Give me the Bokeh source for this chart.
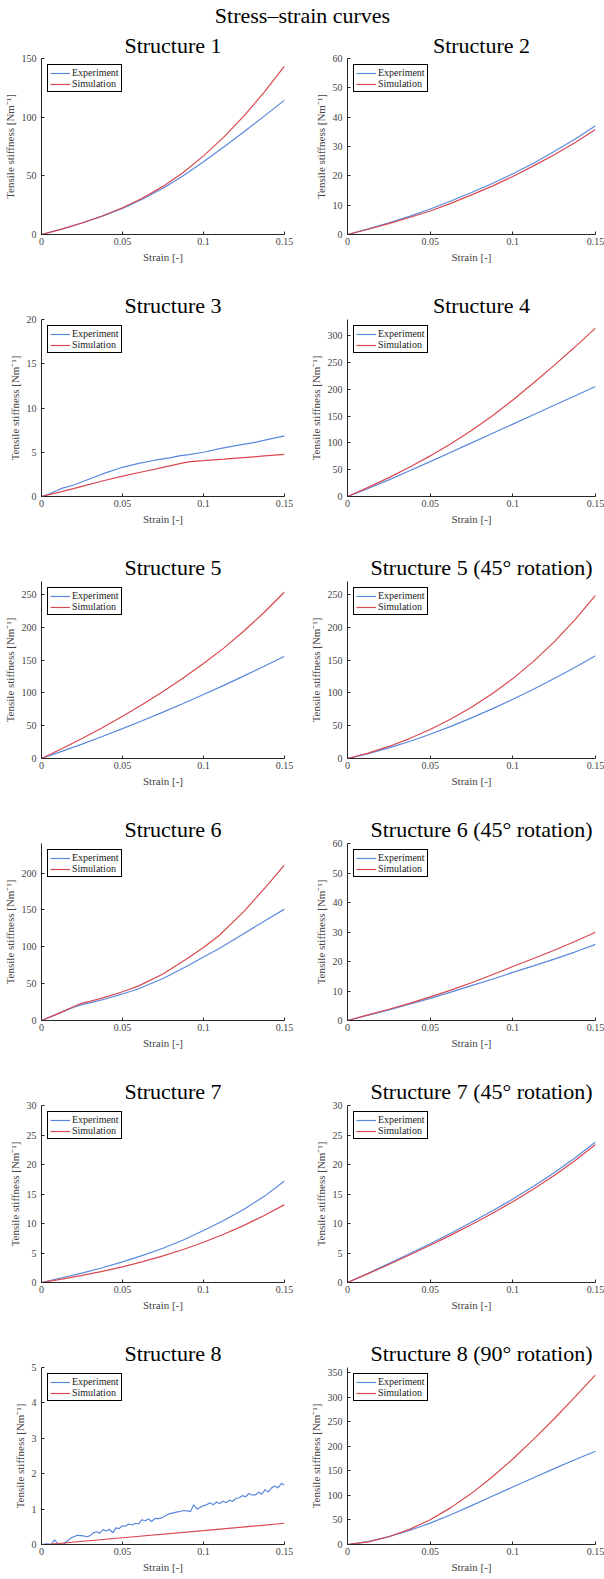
from bokeh.plotting import figure
from bokeh.layouts import column, row
from bokeh.models import Range1d, FixedTicker, Label, Title
from bokeh.embed import file_html
from bokeh.resources import INLINE

# ---------------- data ----------------
SUPTITLE = "Stress–strain curves"
TITLES = ["Structure 1", "Structure 2", "Structure 3", "Structure 4",
          "Structure 5", "Structure 5 (45° rotation)",
          "Structure 6", "Structure 6 (45° rotation)",
          "Structure 7", "Structure 7 (45° rotation)",
          "Structure 8", "Structure 8 (90° rotation)"]
X_TICKS = [0, 0.05, 0.1, 0.15]
X_TICK_LABELS = ["0", "0.05", "0.1", "0.15"]
X_LABEL = "Strain [-]"
Y_LABEL = "Tensile stiffness [Nm⁻¹]"
SERIES = ["Experiment", "Simulation"]

STRAIN = [0, 0.0125, 0.025, 0.0375, 0.05, 0.0625, 0.075, 0.0875, 0.1, 0.1125, 0.125, 0.1375, 0.15]

S1_EXP = [0, 4.6, 9.8, 15.7, 22.3, 30.2, 39.5, 50.1, 62.0, 74.6, 87.6, 100.9, 114.5]
S1_SIM = [0, 4.6, 9.8, 15.8, 22.8, 31.1, 41.0, 52.8, 67.0, 83.0, 101.1, 121.3, 143.5]

S2_EXP = [0, 1.9, 4.0, 6.2, 8.7, 11.4, 14.3, 17.4, 20.7, 24.3, 28.3, 32.5, 37.1]
S2_SIM = [0, 1.8, 3.7, 5.8, 8.0, 10.6, 13.5, 16.5, 19.8, 23.4, 27.2, 31.3, 35.8]

S3_EXP_X = [0, 0.005, 0.01, 0.013, 0.02, 0.03, 0.04, 0.05, 0.06, 0.07, 0.08, 0.085, 0.09, 0.1, 0.11, 0.12, 0.13, 0.14, 0.15]
S3_EXP = [0, 0.3, 0.7, 0.95, 1.3, 2.0, 2.7, 3.3, 3.75, 4.1, 4.4, 4.6, 4.7, 5.0, 5.4, 5.75, 6.05, 6.45, 6.85]
S3_SIM_X = [0, 0.0125, 0.025, 0.0375, 0.05, 0.0625, 0.075, 0.0875, 0.092, 0.1, 0.1125, 0.125, 0.1375, 0.15]
S3_SIM = [0, 0.55, 1.15, 1.75, 2.3, 2.8, 3.3, 3.8, 3.95, 4.05, 4.22, 4.4, 4.58, 4.75]

S4_EXP = [0, 15, 31, 48, 65, 82.5, 100, 117.5, 135, 152.5, 170, 187.5, 205]
S4_SIM = [0, 17, 35.2, 54.7, 75.7, 98.5, 123.2, 150.2, 180, 211.5, 244.5, 278.6, 314]

S5_EXP = [0, 10.8, 22, 33.6, 45.6, 58, 70.8, 84, 97.6, 111.6, 126, 140.8, 156]
S5_SIM = [0, 15, 30.6, 47, 64.4, 82.8, 102.3, 122.9, 144.8, 168.4, 194.4, 223.1, 254]

S5R_EXP = [0, 7.4, 16.1, 26, 37, 49, 61.9, 75.7, 90.3, 105.7, 121.9, 138.9, 156.7]
S5R_SIM = [0, 8.3, 18.4, 30.4, 44.3, 60.2, 78.3, 98.8, 121.9, 148.1, 177.9, 211.5, 249]

S6_X = [0, 0.01, 0.02, 0.025, 0.03, 0.04, 0.05, 0.06, 0.075, 0.09, 0.1, 0.11, 0.125, 0.14, 0.15]
S6_EXP = [0, 9, 18, 21.5, 24, 29.5, 36, 43, 57, 74, 86, 98, 118, 138, 151]
S6_SIM = [0, 9, 19, 23.5, 26, 32, 39, 47, 63, 84, 99, 116, 148, 185, 211]

S6R_EXP = [0, 1.8, 3.6, 5.5, 7.5, 9.6, 11.8, 14.0, 16.3, 18.5, 20.8, 23.2, 25.8]
S6R_SIM = [0, 1.9, 3.8, 5.8, 8.0, 10.3, 12.8, 15.5, 18.3, 21.0, 23.8, 26.8, 29.9]

S7_EXP = [0, 0.8, 1.6, 2.5, 3.5, 4.6, 5.8, 7.2, 8.8, 10.5, 12.4, 14.6, 17.2]
S7_SIM = [0, 0.58, 1.2, 1.88, 2.66, 3.54, 4.52, 5.6, 6.82, 8.18, 9.68, 11.36, 13.2]

S7R_EXP = [0, 1.58, 3.2, 4.86, 6.58, 8.36, 10.2, 12.12, 14.14, 16.3, 18.6, 21.1, 23.8]
S7R_SIM = [0, 1.5, 3.05, 4.65, 6.31, 8.03, 9.83, 11.71, 13.7, 15.83, 18.13, 20.63, 23.4]

S8_EXP_X = [0, 0.003, 0.006, 0.008, 0.01, 0.012, 0.014, 0.016, 0.018, 0.02,
            0.022, 0.025, 0.028, 0.03, 0.032, 0.034, 0.036, 0.038, 0.04, 0.042,
            0.044, 0.046, 0.048, 0.05, 0.052, 0.054, 0.056, 0.058, 0.06, 0.062,
            0.064, 0.066, 0.068, 0.07, 0.072, 0.074, 0.076, 0.078, 0.08, 0.082,
            0.084, 0.086, 0.088, 0.09, 0.092, 0.094, 0.096, 0.098, 0.1, 0.102,
            0.104, 0.106, 0.108, 0.11, 0.112, 0.114, 0.116, 0.118, 0.12, 0.122,
            0.124, 0.126, 0.128, 0.13, 0.132, 0.134, 0.136, 0.138, 0.14, 0.142,
            0.144, 0.146, 0.148, 0.15]
S8_EXP = [0, 0.02, 0.0, 0.13, 0.03, 0.0, 0.02, 0.1, 0.18, 0.22,
          0.26, 0.25, 0.22, 0.25, 0.33, 0.36, 0.32, 0.42, 0.38, 0.43,
          0.33, 0.47, 0.45, 0.53, 0.52, 0.58, 0.55, 0.6, 0.58, 0.7,
          0.67, 0.72, 0.65, 0.74, 0.73, 0.75, 0.8, 0.85, 0.88, 0.9,
          0.92, 0.94, 0.96, 0.95, 0.93, 1.12, 1.0, 1.05, 1.1, 1.12,
          1.18, 1.12, 1.2, 1.16, 1.22, 1.18, 1.25, 1.22, 1.3, 1.32,
          1.38, 1.35, 1.44, 1.4, 1.4, 1.48, 1.42, 1.55, 1.48, 1.6,
          1.65, 1.6, 1.72, 1.68]
S8_SIM_X = [0, 0.003, 0.05, 0.1, 0.15]
S8_SIM = [0, 0.0, 0.19, 0.39, 0.6]

S8R_EXP = [0, 6, 16, 28.5, 43.5, 60.5, 79, 98, 117, 135.8, 154.3, 172.3, 189.8]
S8R_SIM = [0, 5.5, 15.7, 30.7, 50.5, 75, 104, 137.2, 174, 213.8, 255.8, 299.6, 345]

Y_MAX = [150, 60, 20, 330, 270, 270, 240, 60, 30, 30, 5, 360]
Y_TICKS = [
    [0, 50, 100, 150],
    [0, 10, 20, 30, 40, 50, 60],
    [0, 5, 10, 15, 20],
    [0, 50, 100, 150, 200, 250, 300],
    [0, 50, 100, 150, 200, 250],
    [0, 50, 100, 150, 200, 250],
    [0, 50, 100, 150, 200],
    [0, 10, 20, 30, 40, 50, 60],
    [0, 5, 10, 15, 20, 25, 30],
    [0, 5, 10, 15, 20, 25, 30],
    [0, 1, 2, 3, 4, 5],
    [0, 50, 100, 150, 200, 250, 300, 350],
]

PANELS = [
    (STRAIN, S1_EXP, STRAIN, S1_SIM),
    (STRAIN, S2_EXP, STRAIN, S2_SIM),
    (S3_EXP_X, S3_EXP, S3_SIM_X, S3_SIM),
    (STRAIN, S4_EXP, STRAIN, S4_SIM),
    (STRAIN, S5_EXP, STRAIN, S5_SIM),
    (STRAIN, S5R_EXP, STRAIN, S5R_SIM),
    (S6_X, S6_EXP, S6_X, S6_SIM),
    (STRAIN, S6R_EXP, STRAIN, S6R_SIM),
    (STRAIN, S7_EXP, STRAIN, S7_SIM),
    (STRAIN, S7R_EXP, STRAIN, S7R_SIM),
    (S8_EXP_X, S8_EXP, S8_SIM_X, S8_SIM),
    (STRAIN, S8R_EXP, STRAIN, S8R_SIM),
]

# ---------------- style ----------------
BLUE = "#5a88de"
RED = "#d9484f"
SERIF = "Liberation Serif"
AX_COL = "#262626"
TXT_COL = "#444444"


def make_panel(i):
    col = i % 2
    first = i < 2
    last = i >= 10
    top = 24 if first else 27
    bottom = 34 if last else 55
    xe, ye, xs, ys = PANELS[i]
    p = figure(width=302, height=top + 180 + bottom,
               x_range=Range1d(0, 0.15), y_range=Range1d(0, Y_MAX[i]),
               output_backend="svg", toolbar_location=None,
               min_border_left=41 if col == 0 else 45,
               min_border_right=18 if col == 0 else 9,
               min_border_top=top,
               min_border_bottom=bottom)
    t = Title(text=TITLES[i], text_font=SERIF, text_font_size="22px",
              text_font_style="normal", text_color="black", align="center",
              standoff=1 if first else 3,
              padding=dict(left=20, right=0, top=0, bottom=0))
    p.add_layout(t, "above")
    p.xgrid.visible = False
    p.ygrid.visible = False
    p.outline_line_color = None
    p.background_fill_color = "white"
    p.border_fill_color = "white"

    p.xaxis.ticker = FixedTicker(ticks=X_TICKS)
    p.xaxis.major_label_overrides = {t: l for t, l in zip(X_TICKS, X_TICK_LABELS)}
    p.yaxis.ticker = FixedTicker(ticks=Y_TICKS[i])
    p.xaxis.axis_label = X_LABEL
    p.yaxis.axis_label = Y_LABEL
    for ax in (p.xaxis[0], p.yaxis[0]):
        ax.major_tick_in = 3
        ax.major_tick_out = 0
        ax.minor_tick_in = 0
        ax.minor_tick_out = 0
        ax.axis_line_color = AX_COL
        ax.major_tick_line_color = AX_COL
        ax.major_label_text_font = SERIF
        ax.major_label_text_font_size = "10px"
        ax.major_label_text_color = TXT_COL
        ax.axis_label_text_font = SERIF
        ax.axis_label_text_font_size = "11px"
        ax.axis_label_text_font_style = "normal"
        ax.axis_label_text_color = TXT_COL
        ax.axis_label_standoff = 3
    p.xaxis[0].major_label_standoff = 3
    p.yaxis[0].major_label_standoff = 5

    p.line(xe, ye, line_color=BLUE, line_width=1.2, legend_label=SERIES[0])
    p.line(xs, ys, line_color=RED, line_width=1.2, legend_label=SERIES[1])

    lg = p.legend[0]
    lg.location = "top_left"
    lg.margin = 6
    lg.padding = 2
    lg.spacing = 0
    lg.label_height = 10
    lg.glyph_height = 10
    lg.glyph_width = 20
    lg.label_standoff = 2
    lg.label_text_font = SERIF
    lg.label_text_font_size = "10px"
    lg.label_text_color = "#222222"
    lg.border_line_color = "black"
    lg.border_line_width = 1
    lg.border_line_alpha = 1
    lg.background_fill_alpha = 1
    return p


# super title
st = figure(width=604, height=30, x_range=Range1d(0, 1), y_range=Range1d(0, 1),
            output_backend="svg", toolbar_location=None, min_border=0,
            x_axis_location=None, y_axis_location=None)
st.grid.visible = False
st.outline_line_color = None
st.add_layout(Label(x=302, y=15, x_units="screen", y_units="screen",
                    text=SUPTITLE, text_align="center", text_baseline="middle",
                    text_font=SERIF, text_font_size="22px", text_color="black"))

panels = [make_panel(i) for i in range(12)]
rows = [row(panels[2 * r], panels[2 * r + 1]) for r in range(6)]
layout = column(st, *rows)

open("out.html", "w").write(file_html(layout, INLINE))
